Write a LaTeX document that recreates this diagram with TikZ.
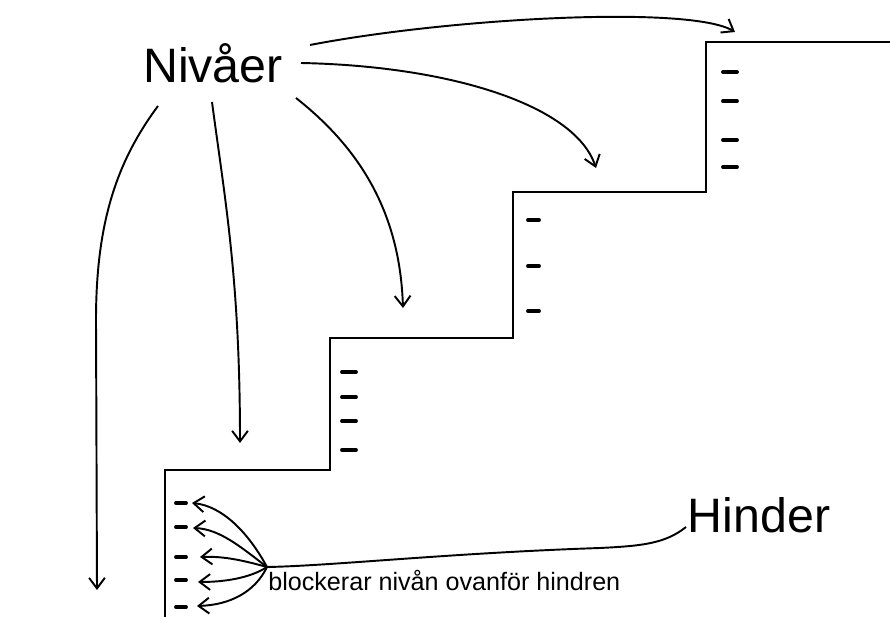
\documentclass[tikz,border=0pt]{standalone}
\usepackage{fontspec}
\setmainfont{Liberation Sans}
\usetikzlibrary{arrows.meta}
\begin{document}
\begin{tikzpicture}[x=0.02cm,y=-0.02cm,
  stair/.style={line width=1.6pt,line cap=round,line join=miter},
  tick/.style={line width=2.2pt,line cap=round},
  pointer/.style={line width=1.1pt,-{Straight Barb[length=6pt,width=9pt,line width=1.1pt]}},
  leader/.style={line width=1.1pt},
  bigtext/.style={font=\fontsize{27.5}{30}\selectfont,inner sep=0pt},
  smalltext/.style={font=\fontsize{14.3}{16}\selectfont,inner sep=0pt}]
\useasboundingbox (0,0) rectangle (890,617);

% staircase outline
\draw[stair] (165,617) -- (165,470) -- (330,470) -- (330,338) -- (513,338)
  -- (513,192) -- (706,192) -- (706,42) -- (890,42);

% level marks on each riser
\foreach \y in {72,101,140,167} \draw[tick] (723,\y) -- (737,\y);
\foreach \y in {220,266,311} \draw[tick] (528,\y) -- (539,\y);
\foreach \y in {372,397,421,450} \draw[tick] (342,\y) -- (356,\y);
\foreach \y in {503,527,557,580,607} \draw[tick] (176,\y) -- (186,\y);

% labels
\node[bigtext,anchor=base] (niv) at (213,83) {Nivåer};
\node[bigtext,anchor=base] (hin) at (759,533) {Hinder};
\node[smalltext,anchor=base west] (blk) at (268,591) {blockerar nivån ovanför hindren};

% arrow ends and starts
\coordinate (s1) at (158,106);
\coordinate (s2) at (212,102);
\coordinate (s3) at (296,98);
\coordinate (s4) at (301,63);
\coordinate (s5) at (310,45);
\coordinate (e1) at (97,590);
\coordinate (e2) at (240,443);
\coordinate (e3) at (403,308);
\coordinate (e4) at (596,168);
\coordinate (e5) at (735,32);

% arrows from the level label to each step
\draw[pointer] (s1) .. controls (118,160) and (96,220) .. (96,320) -- (e1);
\draw[pointer] (s2) .. controls (225,200) and (240,280) .. (e2);
\draw[pointer] (s3) .. controls (362,150) and (400,215) .. (e3);
\draw[pointer] (s4) .. controls (450,66) and (575,105) .. (e4);
\draw[pointer] (s5) .. controls (450,18) and (690,5) .. (e5);

% leader from the obstacle label to the fan point
\coordinate (j) at (267,567);
\coordinate (h1) at (686,527);
\draw[leader] (h1) .. controls (665,544) and (640,546) .. (600,548)
  .. controls (450,553) and (330,566) .. (j);

% fan of arrows to the lowest level marks
\coordinate (f1) at (192,503);
\coordinate (f2) at (193,528);
\coordinate (f3) at (200,557);
\coordinate (f4) at (198,582);
\coordinate (f5) at (197,606);
\draw[pointer] (j) .. controls (248,532) and (222,506) .. (f1);
\draw[pointer] (j) .. controls (242,548) and (220,529) .. (f2);
\draw[pointer] (j) .. controls (245,561) and (225,556) .. (f3);
\draw[pointer] (j) .. controls (250,578) and (225,582) .. (f4);
\draw[pointer] (j) .. controls (255,592) and (230,605) .. (f5);
\end{tikzpicture}
\end{document}
